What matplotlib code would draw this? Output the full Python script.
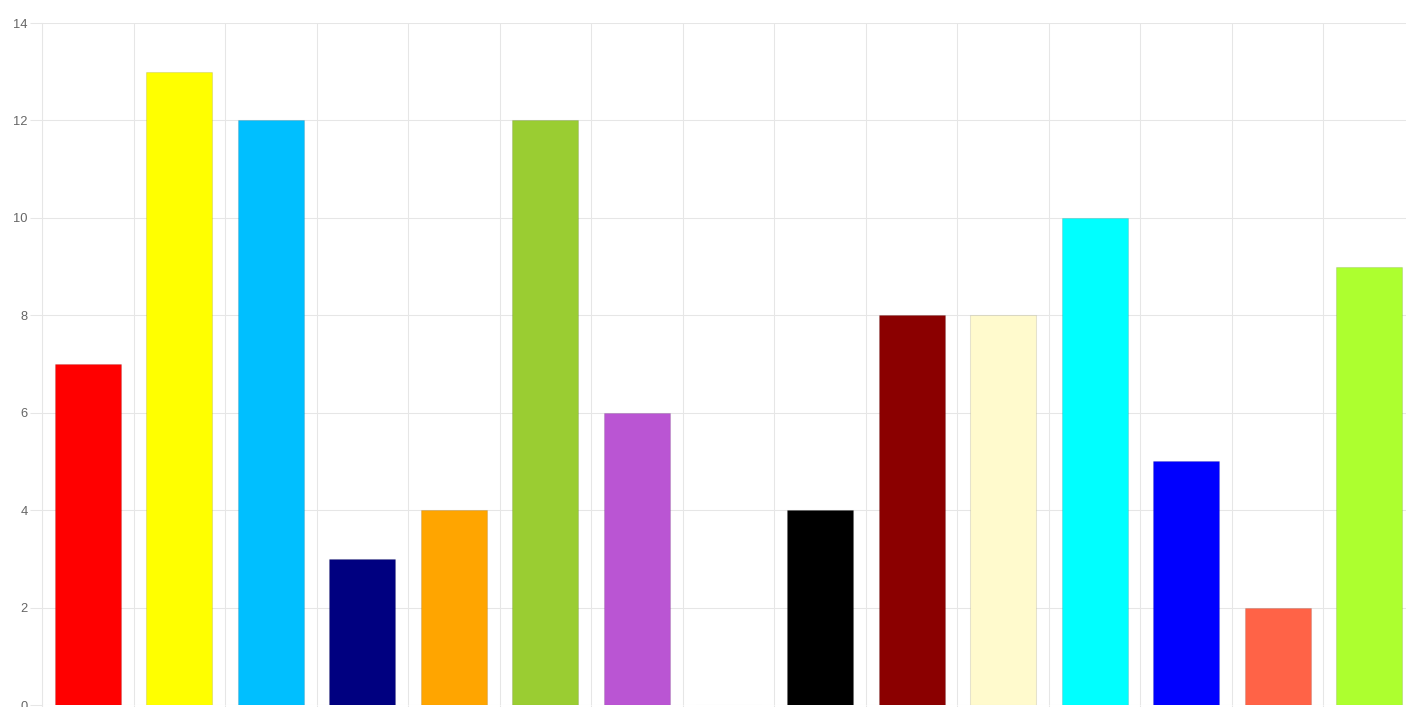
import matplotlib
matplotlib.use('Agg')
import matplotlib.pyplot as plt
from matplotlib.ticker import MultipleLocator

# Data
categories = ["red", "yellow", "deepskyblue", "navy", "orange", "yellowgreen",
              "mediumorchid", "white", "black", "darkred", "lemonchiffon",
              "cyan", "blue", "tomato", "greenyellow"]
values = [7, 13, 12, 3, 4, 12, 6, 0, 4, 8, 8, 10, 5, 2, 9]
bar_colors = ["#ff0000", "#ffff00", "#00bfff", "#000080", "#ffa500", "#9acd32",
              "#ba55d3", "#ffffff", "#000000", "#8b0000", "#fffacd",
              "#00ffff", "#0000ff", "#ff6347", "#adff2f"]

W, H = 1406, 707
fig = plt.figure(figsize=(W / 100, H / 100), dpi=100)
fig.patch.set_facecolor('white')

# axes extends a little past the right edge, like the cropped original
left, right, top, bottom = 42, 1415, 23, 705
ax = fig.add_axes([left / W, 1 - bottom / H, (right - left) / W, (bottom - top) / H])
ax.set_facecolor('white')

grid_col = '#e6e6e6'
x = list(range(len(categories)))
ax.bar(x, values, width=0.72, color=bar_colors,
       edgecolor=(0, 0, 0, 0.1), linewidth=0.8, zorder=3)

ax.set_xlim(-0.5, len(categories) - 0.5)
ax.set_ylim(0, 14)

# y axis: grey ticks, grid
ax.yaxis.set_major_locator(MultipleLocator(2))
ax.tick_params(axis='y', length=8.6, width=0.75, color=grid_col, pad=1.5,
               labelsize=9.3, labelcolor='#666666')
for lab in ax.get_yticklabels():
    lab.set_family(['Liberation Sans', 'DejaVu Sans'])
ax.yaxis.grid(True, color=grid_col, linewidth=0.75, zorder=0)

# x axis: grid lines at category boundaries, labels fall below the canvas
ax.set_xticks([i - 0.5 for i in range(len(categories) + 1)])
ax.set_xticklabels([])
ax.tick_params(axis='x', length=8.6, width=0.75, color=grid_col)
ax.xaxis.grid(True, color=grid_col, linewidth=0.75, zorder=0)
ax.set_axisbelow(True)

for side in ['top', 'right', 'bottom']:
    ax.spines[side].set_visible(False)
ax.spines['left'].set_color(grid_col)
ax.spines['left'].set_linewidth(0.75)

fig.savefig('out.png', dpi=100, facecolor='white')
